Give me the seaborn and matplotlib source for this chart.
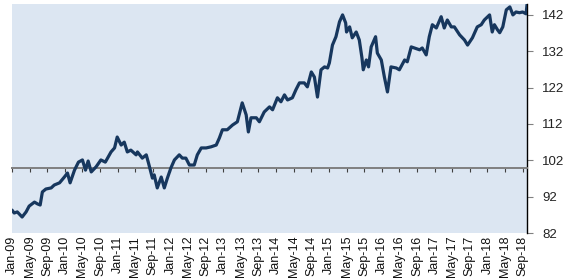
import matplotlib
matplotlib.use("Agg")
import matplotlib.pyplot as plt
import pandas as pd
import seaborn as sns

# months since Jan-09, index level
months = [0.0, 0.5, 1.2, 2.3, 3.2, 3.9, 5.1, 5.8, 6.4, 6.9, 7.7, 8.9, 9.6, 10.8,
          11.9, 12.6, 13.2, 14.2, 15.1, 16.0, 16.7, 17.3, 18.0, 19.1, 20.2, 21.2,
          22.5, 23.3, 23.9, 24.8, 25.5, 26.2, 27.0, 28.2, 28.5, 29.6, 30.5, 31.0,
          31.6, 31.9, 32.3, 33.0, 33.9, 34.6, 35.3, 36.1, 36.9, 38.0, 38.7, 39.5,
          40.3, 41.4, 42.1, 43.0, 44.1, 45.2, 46.4, 47.1, 47.8, 48.9, 50.1, 51.2,
          52.3, 53.2, 53.7, 54.3, 55.5, 56.2, 57.3, 58.5, 59.2, 60.3, 61.1, 61.9,
          62.6, 63.7, 64.5, 65.3, 66.4, 67.1, 68.0, 68.7, 69.4, 70.2, 71.0, 71.7,
          72.1, 72.8, 73.6, 74.4, 75.1, 75.8, 76.0, 76.7, 77.3, 78.2, 78.9, 79.5,
          79.8, 80.5, 81.0, 81.6, 82.6, 83.0, 83.9, 84.6, 85.3, 86.1, 87.3, 88.0,
          89.2, 89.8, 90.7, 91.4, 92.6, 93.2, 94.1, 94.8, 95.5, 96.4, 97.5, 98.2,
          98.9, 99.8, 100.5, 101.7, 102.8, 103.5, 104.6, 105.7, 106.6, 107.3,
          108.5, 109.1, 109.6, 110.3, 110.8, 111.5, 112.3, 113.1, 113.8, 114.5,
          115.3, 116.0, 116.8, 117.0]
values = [88.3, 87.5, 87.8, 86.4, 87.8, 89.4, 90.5, 90.0, 89.7, 93.3, 94.1, 94.4,
          95.2, 95.8, 97.4, 98.5, 95.8, 99.3, 101.5, 102.1, 99.3, 101.8, 98.8,
          100.2, 102.1, 101.5, 104.3, 105.4, 108.4, 106.2, 107.0, 104.3, 104.8,
          103.5, 104.3, 102.6, 103.5, 101.3, 98.5, 97.1, 98.0, 94.4, 97.4, 94.4,
          97.1, 99.9, 102.1, 103.5, 102.6, 102.6, 100.7, 100.7, 103.5, 105.4,
          105.4, 105.7, 106.2, 108.1, 110.4, 110.4, 111.7, 112.6, 117.8, 114.5,
          109.8, 113.7, 113.7, 112.6, 115.3, 116.7, 115.9, 119.2, 118.1, 120.0,
          118.6, 119.2, 121.4, 123.3, 123.3, 122.2, 126.3, 124.9, 119.4, 126.9,
          127.7, 127.4, 128.8, 133.7, 136.0, 140.1, 142.0, 139.8, 137.3, 138.7,
          135.7, 137.3, 135.1, 130.2, 126.9, 129.6, 127.7, 133.2, 136.0, 131.5,
          129.6, 124.9, 120.8, 127.7, 127.4, 126.9, 129.6, 129.1, 133.2, 132.9,
          132.4, 132.9, 131.0, 136.0, 139.3, 138.4, 141.5, 138.4, 140.6, 138.7,
          138.7, 136.5, 135.1, 133.7, 135.7, 138.7, 139.3, 140.6, 142.0, 137.3,
          139.3, 137.9, 137.1, 138.7, 143.4, 144.2, 142.0, 142.8, 142.6, 142.8,
          142.3, 144.8]

tick_months = list(range(0, 117, 4))
tick_labels = ['Jan-09', 'May-09', 'Sep-09', 'Jan-10', 'May-10', 'Sep-10',
               'Jan-11', 'May-11', 'Sep-11', 'Jan-12', 'May-12', 'Sep-12',
               'Jan-13', 'May-13', 'Sep-13', 'Jan-14', 'May-14', 'Sep-14',
               'Jan-15', 'May-15', 'Sep-15', 'Jan-16', 'May-16', 'Sep-16',
               'Jan-17', 'May-17', 'Sep-17', 'Jan-18', 'May-18', 'Sep-18']
y_ticks = [82, 92, 102, 112, 122, 132, 142]

sns.set_style('white')
plt.rcParams['font.family'] = ['Liberation Sans', 'DejaVu Sans']

fig = plt.figure(figsize=(5.69, 2.78), dpi=100)
ax = fig.add_axes([12 / 569, 1 - 233 / 278, 515 / 569, 229 / 278])
ax.set_facecolor('#dce6f2')

df = pd.DataFrame({'month': months, 'value': values})
sns.lineplot(data=df, x='month', y='value', color='#17375e', linewidth=2.3,
             ax=ax, zorder=3)
ax.set_xlim(0, 117)
ax.set_ylim(82, 145)
ax.set_xlabel('')
ax.set_ylabel('')

# right-hand value axis
ax.yaxis.tick_right()
ax.set_yticks(y_ticks)
ax.tick_params(axis='y', right=True, left=False, length=4, width=0.8,
               color='#808080', labelsize=9.5, pad=7, labelcolor='#222222')
ax.spines['top'].set_visible(False)
ax.spines['left'].set_visible(False)
ax.spines['right'].set_color('black')
ax.spines['right'].set_linewidth(1.0)

# time axis drawn through 100
ax.spines['bottom'].set_position(('data', 100))
ax.spines['bottom'].set_color('#808080')
ax.spines['bottom'].set_linewidth(1.4)
ax.set_xticks(tick_months)
ax.tick_params(axis='x', bottom=True, direction='out', length=3, width=0.8,
               color='#404040', labelbottom=False)

sec = ax.secondary_xaxis('bottom')
sec.set_xticks(tick_months, labels=tick_labels, rotation=90)
sec.tick_params(length=0, pad=2, labelsize=9, labelcolor='#111111')
sec.spines['bottom'].set_visible(False)

fig.savefig('out.png', dpi=100)
